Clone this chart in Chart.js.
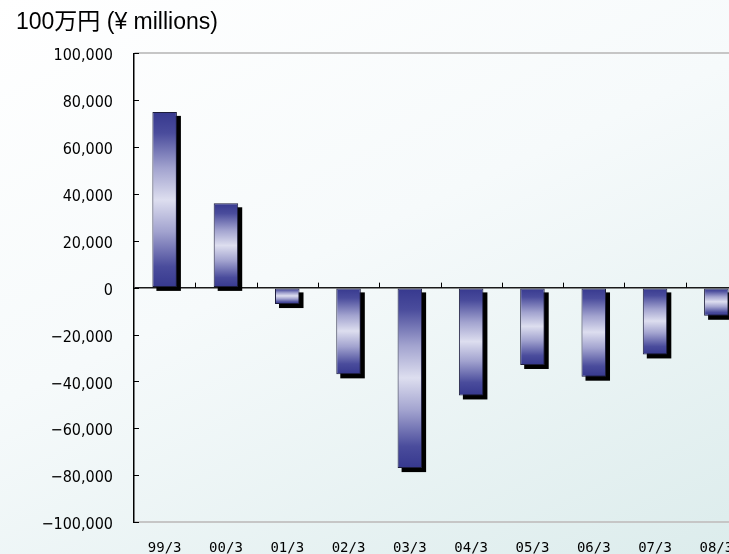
<!DOCTYPE html>
<html>
<head>
<meta charset="utf-8">
<script src="https://cdn.jsdelivr.net/npm/chart.js@4.4.0/dist/chart.umd.min.js"></script>
<style>
html, body { margin: 0; padding: 0; overflow: hidden; }
body {
    width: 729px; height: 554px;
    background: linear-gradient(155deg, #ffffff 0%, #f6fafb 45%, #dcecec 100%);
}
#contenedor { position: absolute; left: 0; top: 0; width: 770px; height: 554px; }
</style>
</head>
<body>
<div id="contenedor"><canvas id="graficoResultados"></canvas></div>
<script>
// Datos (100万円)
const periodos = ['99/3', '00/3', '01/3', '02/3', '03/3', '04/3', '05/3', '06/3', '07/3', '08/3'];
const valores = [75000, 36000, -7000, -37000, -77000, -46000, -33000, -38000, -28500, -12000];
const ticksY = [100000, 80000, 60000, 40000, 20000, 0, -20000, -40000, -60000, -80000, -100000];
const titulo = '100万円 (¥ millions)';

const fuenteNum = '"DejaVu Sans Condensed", "Liberation Sans", sans-serif';

// degradado vertical de cada barra: oscuro en los extremos, claro al centro
function degradadoBarra(c) {
    const chart = c.chart;
    const y = chart.scales.y;
    if (!chart.chartArea || !y) return '#3a3c92';
    const y0 = y.getPixelForValue(0);
    const y1 = y.getPixelForValue(c.raw);
    const g = chart.ctx.createLinearGradient(0, Math.min(y0, y1), 0, Math.max(y0, y1));
    g.addColorStop(0, '#36388e');
    g.addColorStop(0.12, '#4a4c9c');
    g.addColorStop(0.32, '#a2a3cf');
    g.addColorStop(0.5, '#dddeef');
    g.addColorStop(0.68, '#a2a3cf');
    g.addColorStop(0.88, '#4a4c9c');
    g.addColorStop(1, '#36388e');
    return g;
}

// sombras de las barras y marcas cortas en los ejes
const marcasYSombras = {
    id: 'marcasYSombras',
    beforeDatasetsDraw(chart) {
        const { ctx, chartArea, scales: { x, y } } = chart;
        ctx.save();
        ctx.strokeStyle = '#000';
        ctx.lineWidth = 1;
        y.ticks.forEach((t, i) => {
            const py = Math.round(y.getPixelForTick(i)) + 0.5;
            ctx.beginPath();
            ctx.moveTo(chartArea.left, py);
            ctx.lineTo(chartArea.left + 5, py);
            ctx.stroke();
        });
        const y0 = y.getPixelForValue(0);
        for (let i = 1; i < x.ticks.length; i++) {
            const px = Math.round((x.getPixelForTick(i - 1) + x.getPixelForTick(i)) / 2) + 0.5;
            ctx.beginPath();
            ctx.moveTo(px, y0);
            ctx.lineTo(px, y0 - 5);
            ctx.stroke();
        }
        ctx.fillStyle = '#000';
        chart.getDatasetMeta(0).data.forEach(b => {
            const arriba = Math.min(b.y, b.base);
            ctx.fillRect(b.x - b.width / 2 + 4, arriba + 4, b.width, Math.abs(b.y - b.base));
        });
        ctx.restore();
    }
};

new Chart(document.getElementById('graficoResultados'), {
    type: 'bar',
    data: {
        labels: periodos,
        datasets: [{
            data: valores,
            backgroundColor: degradadoBarra,
            borderColor: '#1c1c3c',
            borderWidth: 1,
            borderSkipped: false,
            categoryPercentage: 1,
            barPercentage: 0.4
        }]
    },
    options: {
        responsive: true,
        maintainAspectRatio: false,
        animation: false,
        layout: { padding: { left: 16, right: 23, top: 0, bottom: 0 } },
        plugins: {
            legend: { display: false },
            tooltip: { enabled: false },
            title: {
                display: true,
                text: titulo,
                align: 'start',
                color: '#000',
                font: { family: '"Liberation Sans", Arial, "Noto Sans CJK JP", sans-serif', size: 23, weight: 'normal', lineHeight: 1.1 },
                padding: { top: 10, bottom: 18 }
            }
        },
        scales: {
            x: {
                grid: { display: false, drawTicks: false },
                border: { display: false },
                ticks: {
                    color: '#000',
                    padding: 18,
                    maxRotation: 0,
                    font: { family: '"DejaVu Sans Mono", monospace', size: 14 }
                },
                afterFit: s => { s.height = 32; }
            },
            y: {
                min: -100000,
                max: 100000,
                afterBuildTicks: s => { s.ticks = ticksY.map(v => ({ value: v })); },
                border: { display: true, color: '#000', width: 1.5 },
                grid: {
                    drawTicks: false,
                    color: c => c.tick.value === 0 ? '#1a1a1a'
                        : (Math.abs(c.tick.value) === 100000 ? '#c6c6c6' : 'rgba(0,0,0,0)'),
                    lineWidth: c => c.tick.value === 0 ? 1.5 : 2
                },
                ticks: {
                    color: '#000',
                    padding: 21,
                    labelOffset: 3,
                    font: { family: fuenteNum, size: 16 },
                    callback: v => v.toLocaleString('en-US').replace('-', '\u2212')
                },
                afterFit: s => { s.width = 118; }
            }
        }
    },
    plugins: [marcasYSombras]
});
</script>
</body>
</html>
